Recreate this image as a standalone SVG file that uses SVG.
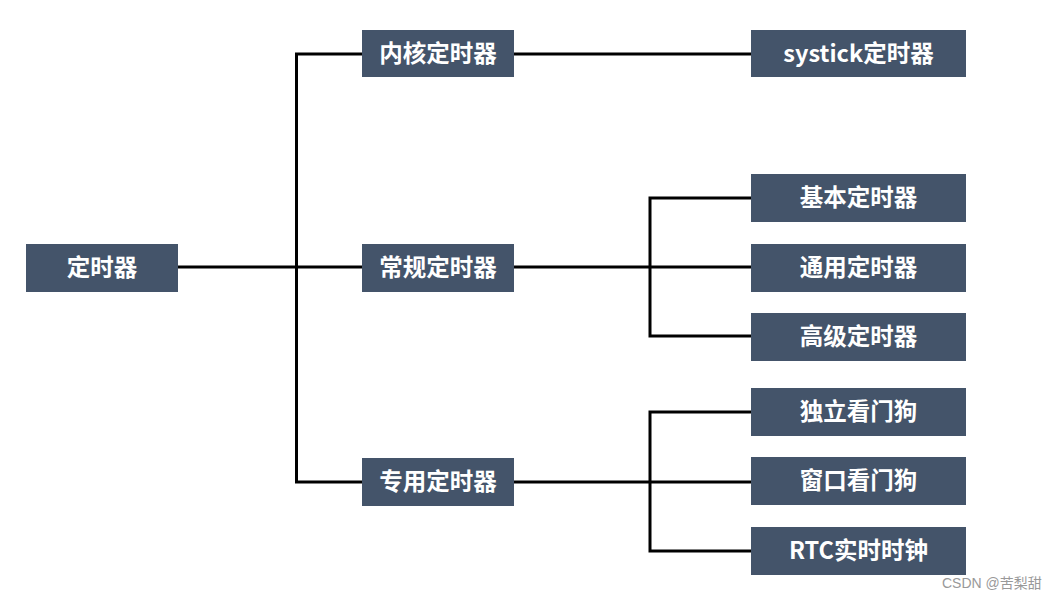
<svg xmlns="http://www.w3.org/2000/svg" width="1057" height="601" viewBox="0 0 1057 601">
<style>
.box{fill:#44546A}
.t{fill:#fff;font-family:"Noto Sans CJK SC","Noto Sans",sans-serif;font-weight:bold;font-size:23.5px;text-anchor:middle;dominant-baseline:central}
.c{stroke:#000;stroke-width:3;fill:none}
.wm{fill:#999;font-family:"Liberation Sans","Noto Sans CJK SC",sans-serif;font-size:14px}
</style>
<rect width="1057" height="601" fill="#fff"/>
<g id="connectors">
<path class="c" d="M178,267H362"/>
<path class="c" d="M362,54H296.5V482H362"/>
<path class="c" d="M514,54H751"/>
<path class="c" d="M514,267H751"/>
<path class="c" d="M751,198H650V336H751"/>
<path class="c" d="M514,482H751"/>
<path class="c" d="M751,412H650V551H751"/>
</g>
<g id="n-root"><rect class="box" x="26" y="244" width="152" height="48"/><text class="t" x="102" y="266">定时器</text></g>
<g id="n-core"><rect class="box" x="362" y="30" width="152" height="47"/><text class="t" x="438" y="51.5">内核定时器</text></g>
<g id="n-normal"><rect class="box" x="362" y="244" width="152" height="48"/><text class="t" x="438" y="266">常规定时器</text></g>
<g id="n-special"><rect class="box" x="362" y="458" width="152" height="48"/><text class="t" x="438" y="480">专用定时器</text></g>
<g id="n-systick"><rect class="box" x="751" y="30" width="215" height="47"/><text class="t" x="858.5" y="51.5">systick定时器</text></g>
<g id="n-basic"><rect class="box" x="751" y="174" width="215" height="48"/><text class="t" x="858.5" y="196">基本定时器</text></g>
<g id="n-general"><rect class="box" x="751" y="244" width="215" height="48"/><text class="t" x="858.5" y="266">通用定时器</text></g>
<g id="n-advanced"><rect class="box" x="751" y="313" width="215" height="48"/><text class="t" x="858.5" y="335">高级定时器</text></g>
<g id="n-iwdg"><rect class="box" x="751" y="388" width="215" height="48"/><text class="t" x="858.5" y="410">独立看门狗</text></g>
<g id="n-wwdg"><rect class="box" x="751" y="457" width="215" height="48"/><text class="t" x="858.5" y="479">窗口看门狗</text></g>
<g id="n-rtc"><rect class="box" x="751" y="527" width="215" height="48"/><text class="t" x="858.5" y="549">RTC实时时钟</text></g>
<text class="wm" x="942" y="588">CSDN @苦梨甜</text>
</svg>
